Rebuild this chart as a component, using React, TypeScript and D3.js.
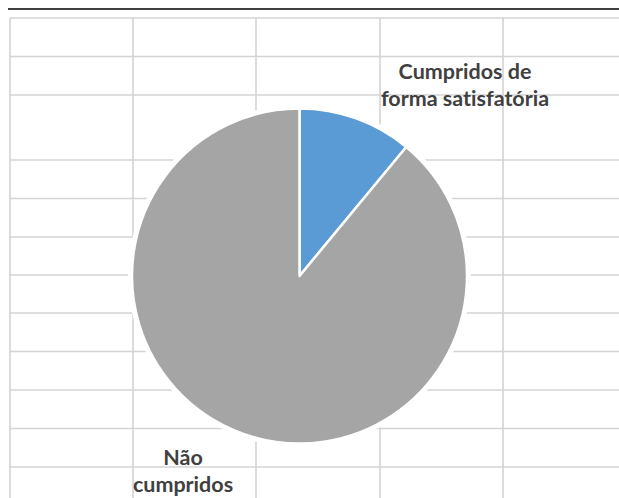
import React from "react";
import * as d3 from "d3";

const categories = ["Cumpridos de forma satisfatória", "Não cumpridos"];
const values = [11, 89];
const labelLines = [["Cumpridos de", "forma satisfatória"], ["Não", "cumpridos"]];
const colors = ["#5B9BD5", "#A5A5A5"];

const W = 619;
const H = 498;
const gridX = [10, 133, 256, 380, 503];
const gridY = [18, 56.5, 95, 160, 198.5, 237, 275, 313, 351.5, 390, 428.5, 467];

export default function App() {
  const cx = 299.5;
  const cy = 276;
  const r = 167.5;
  const pie = d3.pie<number>().sort(null).startAngle(0).endAngle(2 * Math.PI)(values);
  const arc = d3.arc<d3.PieArcDatum<number>>().innerRadius(0).outerRadius(r);
  const labelPos = [
    { x: 465, y: 79 },
    { x: 183, y: 465 },
  ];
  const font = "Lato, 'Open Sans', sans-serif";
  return (
    <svg
      width={W}
      height={H}
      style={{ position: "absolute", left: 0, top: 0, background: "#fff" }}
    >
      <line x1={8} x2={W} y1={9} y2={9} stroke="#000" strokeWidth={1.5} />
      {gridX.map((x) => (
        <line key={"vx" + x} x1={x} x2={x} y1={gridY[0]} y2={H} stroke="#d4d4d4" strokeWidth={1.6} />
      ))}
      {gridY.map((y) => (
        <line key={"hy" + y} x1={gridX[0]} x2={W} y1={y} y2={y} stroke="#d4d4d4" strokeWidth={1.6} />
      ))}
      <circle cx={cx} cy={cy} r={r + 4} fill="#fff" />
      <g transform={`translate(${cx},${cy})`}>
        {pie.map((d, i) => (
          <path
            key={categories[i]}
            d={arc(d) || ""}
            fill={colors[i]}
            stroke="#fff"
            strokeWidth={2.5}
            strokeLinejoin="round"
          />
        ))}
      </g>
      {labelLines.map((lines, i) => (
        <text
          key={"lab" + i}
          x={labelPos[i].x}
          y={labelPos[i].y}
          textAnchor="middle"
          fontFamily={font}
          fontWeight={700}
          fontSize={21.5}
          fill="#404040"
          style={{ fontVariantLigatures: "none" }}
        >
          {lines.map((ln, j) => (
            <tspan key={j} x={labelPos[i].x} dy={j === 0 ? 0 : 27}>
              {ln}
            </tspan>
          ))}
        </text>
      ))}
    </svg>
  );
}
